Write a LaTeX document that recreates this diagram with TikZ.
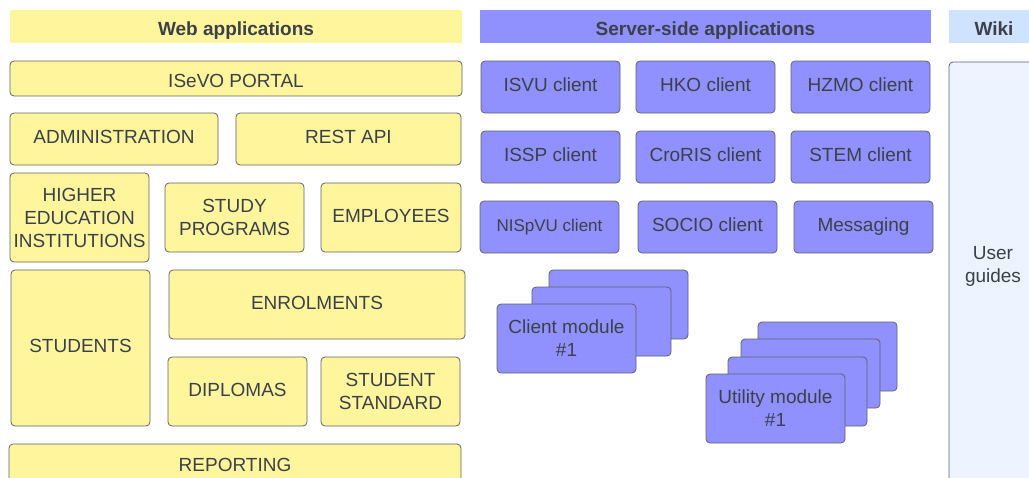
\documentclass[tikz,border=0pt]{standalone}
\usepackage{fontspec}
\setmainfont{Liberation Sans}
\definecolor{webfill}{HTML}{FFF59D}
\definecolor{srvfill}{HTML}{9090FF}
\definecolor{wikihead}{HTML}{CFE2FF}
\definecolor{wikifill}{HTML}{EDF4FF}
\definecolor{edge}{HTML}{5F6368}
\definecolor{ink}{HTML}{3A414A}
\begin{document}
\begin{tikzpicture}[x=1pt, y=-1pt, font=\fontsize{19}{23}\selectfont, every node/.style={anchor=north west, outer sep=0pt, inner sep=0pt, align=center, text=ink, text height=14pt, text depth=5pt},
    head/.style={minimum height=33pt, text height=17pt, text depth=0pt, font=\fontsize{19}{23}\selectfont\bfseries},
    lines/.style={text height={}, text depth={}},
    web/.style={draw=edge, line width=0.8pt, fill=webfill, rounded corners=4pt},
    srv/.style={draw=edge, line width=0.8pt, fill=srvfill, rounded corners=4pt, minimum width=139pt, minimum height=52pt},
    modbox/.style={draw=edge, line width=0.8pt, fill=srvfill, rounded corners=4pt, minimum width=139pt, minimum height=69pt}]
        \clip (0,0) rectangle (1029,477);
        % headers
        \node[head, fill=webfill, minimum width=452pt] (webhead) at (10, 10) {Web applications};
        \node[head, fill=srvfill, minimum width=451pt] (srvhead) at (480, 10) {Server-side applications};
        \node[head, fill=wikihead, minimum width=90pt] (wikihead) at (949, 10) {Wiki};

        % web applications
        \node[web, minimum width=452pt, minimum height=35pt, text height=17pt, text depth=0pt] (portal) at (10, 61) {ISeVO PORTAL};
        \node[web, minimum width=208pt, minimum height=52pt] (admin) at (10, 113) {ADMINISTRATION};
        \node[web, minimum width=225pt, minimum height=52pt] (rest) at (236, 113) {REST API};
        \node[web, lines, minimum width=139pt, minimum height=89pt] (hei) at (10, 173) {HIGHER\\EDUCATION\\INSTITUTIONS};
        \node[web, lines, minimum width=139pt, minimum height=69pt] (programs) at (165, 183) {STUDY\\PROGRAMS};
        \node[web, minimum width=140pt, minimum height=69pt] (employees) at (321, 183) {EMPLOYEES};
        \node[web, minimum width=139pt, minimum height=156pt] (students) at (11, 270) {STUDENTS};
        \node[web, minimum width=296pt, minimum height=69pt] (enrolments) at (169, 270) {ENROLMENTS};
        \node[web, minimum width=139pt, minimum height=69pt] (diplomas) at (168, 357) {DIPLOMAS};
        \node[web, lines, minimum width=139pt, minimum height=69pt] (standard) at (321, 357) {STUDENT\\STANDARD};
        \node[web, minimum width=452pt, minimum height=40pt, text height=14pt, text depth=0pt] (reporting) at (9, 444) {REPORTING};

        % server-side applications
        \node[srv] (isvu) at (481, 61) {ISVU client};
        \node[srv] (hko) at (636, 61) {HKO client};
        \node[srv] (hzmo) at (791, 61) {HZMO client};
        \node[srv] (issp) at (481, 131) {ISSP client};
        \node[srv] (croris) at (636, 131) {CroRIS client};
        \node[srv] (stem) at (791, 131) {STEM client};
        \node[srv, font=\fontsize{17}{21}\selectfont] (nispvu) at (480, 201) {NISpVU client};
        \node[srv] (socio) at (638, 201) {SOCIO client};
        \node[srv] (messaging) at (794, 201) {Messaging};

        % module stacks
        \node[modbox] (client3) at (549, 270) {};
        \node[modbox] (client2) at (532, 287) {};
        \node[modbox, lines] (client1) at (497, 304) {Client module\\\#1};
        \node[modbox] (util4) at (758, 322) {};
        \node[modbox] (util3) at (741, 339) {};
        \node[modbox] (util2) at (728, 357) {};
        \node[modbox, lines] (util1) at (706, 374) {Utility module\\\#1};

        % wiki
        \node[draw=edge, line width=0.8pt, fill=wikifill, rounded corners=4pt, minimum width=100pt, minimum height=440pt] (guides) at (949, 62) {};
        \node[lines, anchor=center] (guidestext) at (993, 266) {User\\guides};
    \end{tikzpicture}
\end{document}
